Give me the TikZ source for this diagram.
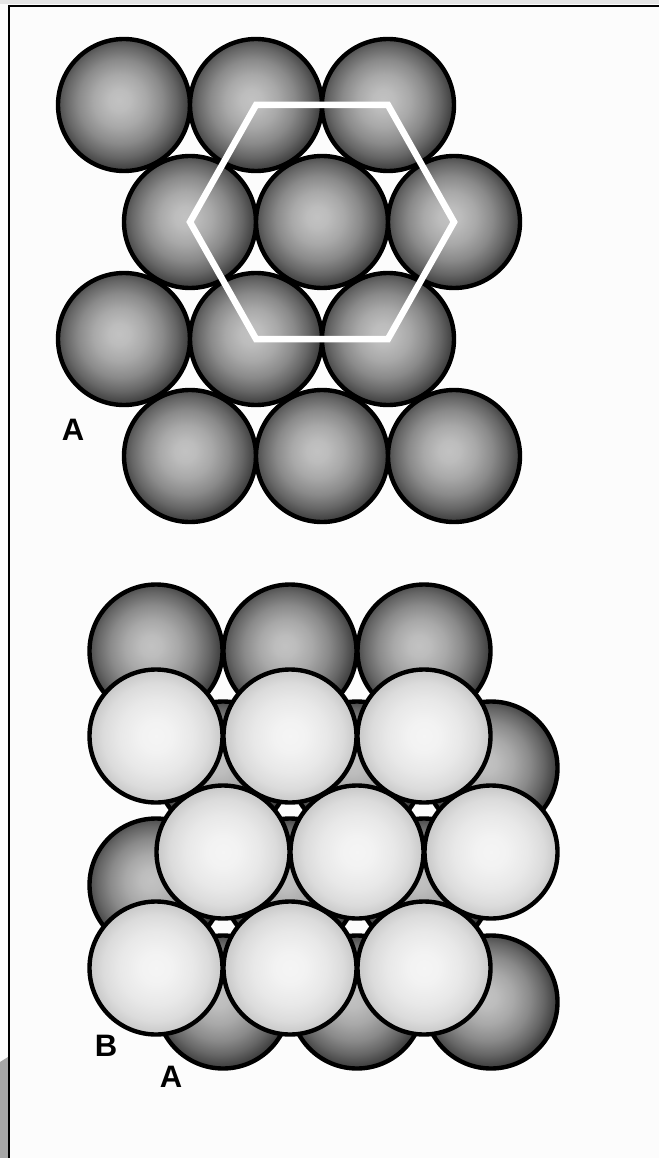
\documentclass[tikz,border=0pt]{standalone}
\usepackage{fontspec}
\setmainfont{Liberation Sans}
% Radial shadings for the two kinds of sphere (edge of the sphere at 25bp)
\pgfdeclareradialshading{darkball}{\pgfpoint{-2bp}{2bp}}{%
  rgb(0bp)=(0.76,0.76,0.76); rgb(4bp)=(0.74,0.74,0.74); rgb(10bp)=(0.66,0.66,0.66);
  rgb(16bp)=(0.54,0.54,0.54); rgb(21bp)=(0.40,0.40,0.40); rgb(25bp)=(0.26,0.26,0.26);
  rgb(50bp)=(0.26,0.26,0.26)}
\pgfdeclareradialshading{lightball}{\pgfpoint{0bp}{0bp}}{%
  rgb(0bp)=(0.96,0.96,0.96); rgb(6bp)=(0.95,0.95,0.95); rgb(14bp)=(0.91,0.91,0.91);
  rgb(20bp)=(0.86,0.86,0.86); rgb(25bp)=(0.78,0.78,0.78); rgb(50bp)=(0.78,0.78,0.78)}
\begin{document}
\begin{tikzpicture}[x=1pt,y=-1pt,
  darksphere/.style={shade,shading=darkball,draw=black,line width=4.4pt},
  lightsphere/.style={shade,shading=lightball,draw=black,line width=4.4pt},
  lbl/.style={inner sep=0pt,font=\fontsize{31}{31}\selectfont\bfseries}]
\useasboundingbox (0,0) rectangle (659,1158);
% page and frame
\fill[black!1] (0,0) rectangle (659,1158);
\fill[black!10] (0,0) rectangle (659,4.5);
\fill[black!35] (0,1062) -- (8,1057) -- (8,1158) -- (0,1158) -- cycle;
\draw[line width=2.5pt] (9,1158) -- (9,6) -- (659,6);

% single close-packed layer A
\foreach \yy/\xs in {105/124,222/190,339/124,456/190}
  \foreach \i in {0,1,2}
    \path[darksphere] (\xs+132*\i,\yy) circle[radius=66pt];
% hexagonal cell
\draw[white,line width=6.5pt,line join=miter]
  (256,105) -- (388,105) -- (454,222) -- (388,339) -- (256,339) -- (190,222) -- cycle;
\node[lbl] (labA) at (73,430) {A};

% layer A underneath
\foreach \yy/\xs in {651/156,768/223,885/156,1002/223}
  \foreach \i in {0,1,2}
    \path[darksphere] (\xs+134*\i,\yy) circle[radius=66.5pt];
% layer B on top
\foreach \yy/\xs in {736/156,852/223,968/156}
  \foreach \i in {0,1,2}
    \path[lightsphere] (\xs+134*\i,\yy) circle[radius=66.5pt];
\node[lbl] (labB) at (106,1046) {B};
\node[lbl] (labA2) at (171,1077) {A};
\end{tikzpicture}
\end{document}
